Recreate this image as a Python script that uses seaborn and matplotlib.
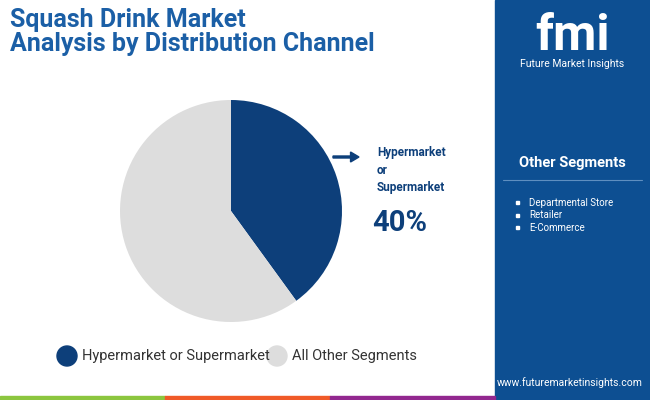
import matplotlib
matplotlib.use("Agg")
import matplotlib.pyplot as plt
import seaborn as sns
from matplotlib.patches import Rectangle, Ellipse, FancyArrow

sns.set_theme(style="white")
plt.rcParams["font.family"] = "Roboto"

categories = ["Hypermarket or Supermarket", "All Other Segments"]
shares = [40, 60]
colors = ["#0d3f7a", "#dddddd"]
other_segments = ["Departmental Store", "Retailer", "E-Commerce"]

W, H = 650, 400
fig = plt.figure(figsize=(6.5, 4), dpi=100)
fig.patch.set_facecolor("white")

def fx(x): return x / W
def fy(y): return 1 - y / H

fig.patches.append(Rectangle((fx(495), 0), 1 - fx(495), 1, transform=fig.transFigure, color="#0d4f92", zorder=0))
for x0, x1, c in [(0, 165, "#8cc63f"), (165, 330, "#f05a28"), (330, 495, "#92278f")]:
    fig.patches.append(Rectangle((fx(x0), 0), fx(x1 - x0), 4 / H, transform=fig.transFigure, color=c, zorder=1))

fig.text(fx(10), fy(32), "Squash Drink Market\nAnalysis by Distribution Channel", fontsize=18, fontweight="bold",
         color="#1b5fa6", va="center", ha="left", linespacing=1.05)

fig.text(fx(572), fy(36), "fmi", fontsize=36, fontweight="bold", color="white", ha="center", va="center")
fig.text(fx(572), fy(64), "Future Market Insights", fontsize=7.5, color="white", ha="center", va="center")

fig.text(fx(572), fy(163), "Other Segments", fontsize=10.5, fontweight="bold", color="white", ha="center", va="center")
fig.lines.append(plt.Line2D([fx(503), fx(642)], [fy(180), fy(180)], transform=fig.transFigure, color="#5f8fc0", lw=0.8))
for i, s in enumerate(other_segments):
    yy = fy(203 + i * 12.5)
    fig.patches.append(Rectangle((fx(516), yy - 1.5 / H), 3 / W, 3 / H, transform=fig.transFigure, color="white"))
    fig.text(fx(529), yy, s, fontsize=7, color="white", ha="left", va="center")
fig.text(fx(643), fy(383), "www.futuremarketinsights.com", fontsize=7.5, color="white", ha="right", va="center")

R = 111
ax = fig.add_axes([fx(231 - R), fy(211 + R), fx(2 * R), 2 * R / H])
ax.pie(shares, colors=colors, startangle=90, counterclock=False, radius=1, wedgeprops=dict(linewidth=0))
ax.set_xlim(-1, 1); ax.set_ylim(-1, 1)
ax.set_aspect("equal")
ax.axis("off")

fig.patches.append(FancyArrow(fx(333), fy(157), fx(26), 0, width=0.005, head_width=0.025, head_length=0.013,
                              length_includes_head=True, transform=fig.transFigure, color="#0d3f7a"))
fig.text(fx(377), fy(170), "Hypermarket\nor\nSupermarket", fontsize=8.5, fontweight="bold", color="#0d3f7a",
         ha="left", va="center", linespacing=1.45)
fig.text(fx(372), fy(223), f"{shares[0]}%", fontsize=21, fontweight="bold", color="#0d3f7a", ha="left", va="center")

for x, c, lab in [(67, colors[0], categories[0]), (277, colors[1], categories[1])]:
    fig.patches.append(Ellipse((fx(x), fy(356)), 20 / W, 20 / H, transform=fig.transFigure, color=c))
    fig.text(fx(x + 15), fy(356), lab, fontsize=10.5, color="#333333", ha="left", va="center")

fig.savefig("out.png", dpi=100)
